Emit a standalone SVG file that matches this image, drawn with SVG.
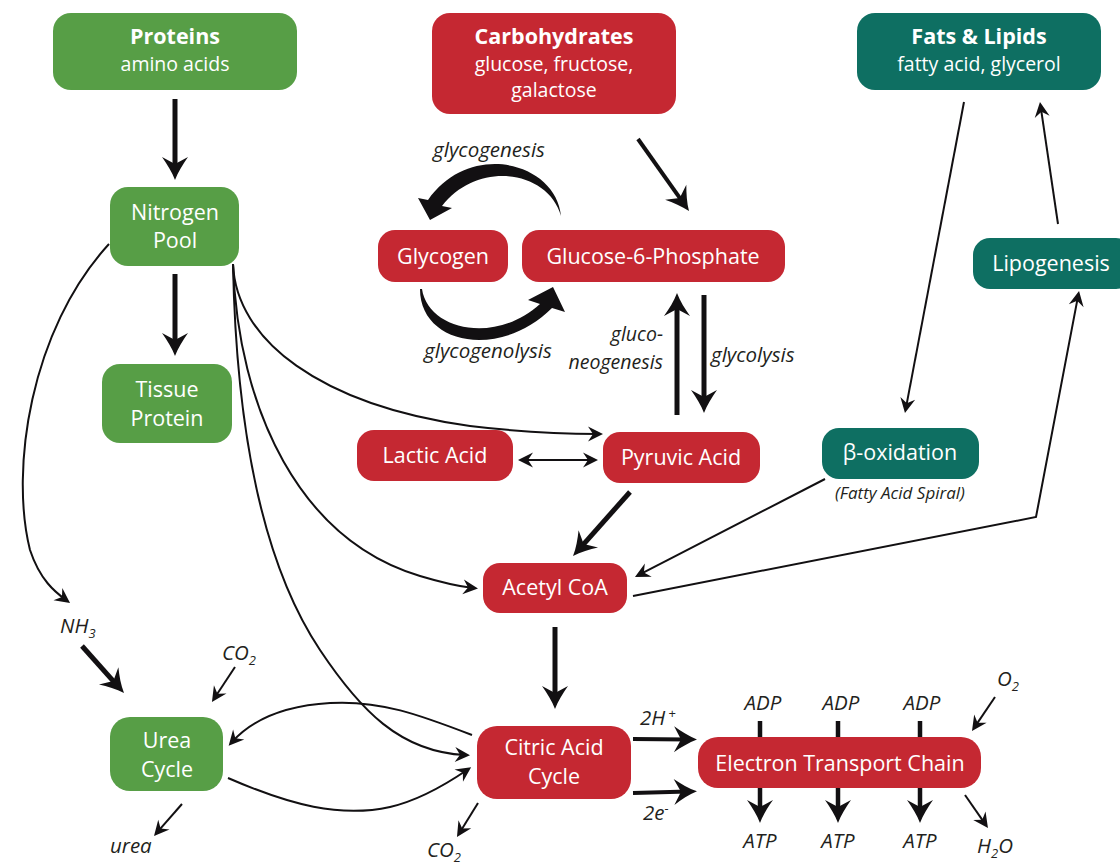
<svg xmlns="http://www.w3.org/2000/svg" width="1120" height="867" viewBox="0 0 1120 867">
<style>
.g{fill:#579e46}.r{fill:#c52832}.t{fill:#0e6f62}
.nt{font-family:"Open Sans","Liberation Sans",sans-serif;font-size:21.5px;fill:#fff;text-anchor:middle}
.sub{font-size:19.5px}
.b{font-weight:bold}
.lb{font-family:"Open Sans","Liberation Sans",sans-serif;font-style:italic;font-size:20.5px;fill:#231f20}
.k{fill:none;stroke:#121012;stroke-width:5}
.n{fill:none;stroke:#121012;stroke-width:2}
</style>
<defs>
<marker id="ah" markerUnits="userSpaceOnUse" viewBox="-20 -15 32 30" markerWidth="32" markerHeight="30" refX="0" refY="0" orient="auto">
<path d="M9,0 C1,-3 -7,-8 -14,-13 L-7,0 L-14,13 C-7,8 1,3 9,0 Z" fill="#121012"/>
</marker>
<marker id="as" markerUnits="userSpaceOnUse" viewBox="-12 -10 20 20" markerWidth="20" markerHeight="20" refX="0" refY="0" orient="auto-start-reverse">
<path d="M5,0 L-10,-7.5 L-5,0 L-10,7.5 Z" fill="#121012"/>
</marker>
</defs>

<g id="connectors">
<path class="k" d="M175,99 L175,171" marker-end="url(#ah)"/>
<path class="k" d="M175,274 L175,347" marker-end="url(#ah)"/>
<path class="k" style="stroke-width:4" d="M638,139 L683.8,203.7" marker-end="url(#ah)"/>
<path class="k" d="M677,415 L677,302" marker-end="url(#ah)"/>
<path class="k" d="M704,295 L704,404" marker-end="url(#ah)"/>
<path class="k" d="M630,492 L579,549.3" marker-end="url(#ah)"/>
<path class="k" d="M555,627 L555,700" marker-end="url(#ah)"/>
<path class="k" d="M82,646 L118,686.3" marker-end="url(#ah)"/>
<path class="k" style="stroke-width:4" d="M633,739 L688,739.5" marker-end="url(#ah)"/>
<path class="k" style="stroke-width:4" d="M633,793 L688,791.5" marker-end="url(#ah)"/>
<path class="k" style="stroke-width:4.5" d="M760,721 L760,738"/>
<path class="k" style="stroke-width:4.5" d="M838,721 L838,738"/>
<path class="k" style="stroke-width:4.5" d="M920,721 L920,738"/>
<path class="k" style="stroke-width:4.5" d="M760,788 L760,814" marker-end="url(#ah)"/>
<path class="k" style="stroke-width:4.5" d="M838,788 L838,814" marker-end="url(#ah)"/>
<path class="k" style="stroke-width:4.5" d="M920,788 L920,814" marker-end="url(#ah)"/>

<path class="n" d="M964,102 L905.9,408.1" marker-end="url(#as)"/>
<path class="n" d="M1058,224 L1040.7,106.9" marker-end="url(#as)"/>
<path class="n" d="M633,596 L1036,517 L1078.1,295.9" marker-end="url(#as)"/>
<path class="n" d="M825,479 L639.4,574.7" marker-end="url(#as)"/>
<path class="n" d="M523,460 L593,460" marker-start="url(#as)" marker-end="url(#as)"/>
<path class="n" d="M235,667 L214.7,697.8" marker-end="url(#as)"/>
<path class="n" d="M182,804 L157.3,832.2" marker-end="url(#as)"/>
<path class="n" d="M478,803 L459.6,832.7" marker-end="url(#as)"/>
<path class="n" d="M995,697 L974.8,726.9" marker-end="url(#as)"/>
<path class="n" d="M965,795 L985.1,823.9" marker-end="url(#as)"/>

<path class="n" d="M109,244 C30,330 10,470 30,550 C40,580 55,592 66,600" marker-end="url(#as)"/>
<path class="n" d="M233,264 C236,340 320,405 470,426 C520,432 560,434 598,434" marker-end="url(#as)"/>
<path class="n" d="M233,264 C238,410 300,540 420,576 C440,582 455,586 473,588" marker-end="url(#as)"/>
<path class="n" d="M233,264 C236,420 260,560 320,650 C360,710 400,752 465,755" marker-end="url(#as)"/>
<path class="n" d="M472,735 C420,715 380,700 330,703 C280,706 250,722 232,742" marker-end="url(#as)"/>
<path class="n" d="M228,778 C290,805 340,818 390,807 C420,800 445,785 467,770" marker-end="url(#as)"/>

<path fill="#121012" d="M561,216 C556,162 470,140 428,200 L418,198 L430,220 L452,208 L442,206 C478,160 548,170 561,216 Z"/>
<path fill="#121012" d="M420,289 C420,345 500,360 552,308 L565,312 L553,287 L528,300 L540,304 C495,345 428,330 422,289 Z"/>
</g>

<g id="proteins"><rect class="g" x="53" y="13" width="244" height="77" rx="18"/>
<text class="nt b" x="175" y="44">Proteins</text><text class="nt sub" x="175" y="71">amino acids</text></g>
<g id="carbohydrates"><rect class="r" x="432" y="13" width="244" height="101" rx="18"/>
<text class="nt b" x="554" y="44">Carbohydrates</text><text class="nt sub" x="554" y="71">glucose, fructose,</text><text class="nt sub" x="554" y="97">galactose</text></g>
<g id="fats"><rect class="t" x="857" y="13" width="244" height="77" rx="18"/>
<text class="nt b" x="979" y="44">Fats &amp; Lipids</text><text class="nt sub" x="979" y="71">fatty acid, glycerol</text></g>
<g id="nitrogen-pool"><rect class="g" x="110" y="187" width="129" height="79" rx="18"/>
<text class="nt" x="175" y="220">Nitrogen</text><text class="nt" x="175" y="248">Pool</text></g>
<g id="tissue-protein"><rect class="g" x="102" y="364" width="130" height="79" rx="18"/>
<text class="nt" x="167" y="397">Tissue</text><text class="nt" x="167" y="426">Protein</text></g>
<g id="glycogen"><rect class="r" x="378" y="230" width="130" height="52" rx="17"/>
<text class="nt" x="443" y="264">Glycogen</text></g>
<g id="g6p"><rect class="r" x="522" y="230" width="263" height="52" rx="17"/>
<text class="nt" x="653" y="264">Glucose-6-Phosphate</text></g>
<g id="lipogenesis"><rect class="t" x="973" y="238" width="160" height="51" rx="17"/>
<text class="nt" x="1051" y="271">Lipogenesis</text></g>
<g id="lactic-acid"><rect class="r" x="357" y="430" width="156" height="51" rx="17"/>
<text class="nt" x="435" y="463">Lactic Acid</text></g>
<g id="pyruvic-acid"><rect class="r" x="603" y="432" width="157" height="51" rx="17"/>
<text class="nt" x="681" y="465">Pyruvic Acid</text></g>
<g id="beta-oxidation"><rect class="t" x="822" y="428" width="157" height="51" rx="17"/>
<text class="nt" x="900" y="460">β-oxidation</text>
<text class="lb" style="font-size:17px;text-anchor:middle" x="900" y="499">(Fatty Acid Spiral)</text></g>
<g id="acetyl-coa"><rect class="r" x="483" y="563" width="144" height="50" rx="17"/>
<text class="nt" x="555" y="595">Acetyl CoA</text></g>
<g id="urea-cycle"><rect class="g" x="110" y="717" width="113" height="74" rx="20"/>
<text class="nt" x="167" y="748">Urea</text><text class="nt" x="167" y="777">Cycle</text></g>
<g id="citric-acid-cycle"><rect class="r" x="477" y="726" width="154" height="73" rx="20"/>
<text class="nt" x="554" y="755">Citric Acid</text><text class="nt" x="554" y="784">Cycle</text></g>
<g id="etc"><rect class="r" x="698" y="737" width="283" height="51" rx="20"/>
<text class="nt" x="840" y="771">Electron Transport Chain</text></g>

<g id="labels">
<text class="lb" x="489" y="157" text-anchor="middle">glycogenesis</text>
<text class="lb" x="488" y="358" text-anchor="middle">glycogenolysis</text>
<text class="lb" style="font-size:19.5px" x="663" y="341" text-anchor="end">gluco-</text>
<text class="lb" style="font-size:19.5px" x="663" y="369" text-anchor="end">neogenesis</text>
<text class="lb" x="711" y="362">glycolysis</text>
<text class="lb" x="60" y="633">NH<tspan font-size="13" dy="5">3</tspan></text>
<text class="lb" x="222" y="660">CO<tspan font-size="13" dy="5">2</tspan></text>
<text class="lb" x="110" y="853">urea</text>
<text class="lb" x="427" y="857">CO<tspan font-size="13" dy="5">2</tspan></text>
<text class="lb" x="640" y="725">2H<tspan font-size="13" dx="3" dy="-7">+</tspan></text>
<text class="lb" x="643" y="820">2e<tspan font-size="13" dy="-7">-</tspan></text>
<text class="lb" x="763" y="710" text-anchor="middle">ADP</text>
<text class="lb" x="841" y="710" text-anchor="middle">ADP</text>
<text class="lb" x="922" y="710" text-anchor="middle">ADP</text>
<text class="lb" x="760" y="848" text-anchor="middle">ATP</text>
<text class="lb" x="838" y="848" text-anchor="middle">ATP</text>
<text class="lb" x="920" y="848" text-anchor="middle">ATP</text>
<text class="lb" x="997" y="686">O<tspan font-size="13" dy="5">2</tspan></text>
<text class="lb" x="977" y="853">H<tspan font-size="13" dy="5">2</tspan><tspan dy="-5">O</tspan></text>
</g>
</svg>
